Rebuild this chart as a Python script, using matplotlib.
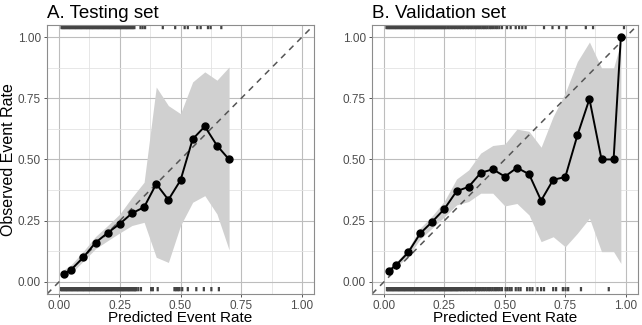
import matplotlib
matplotlib.use("Agg")
import matplotlib.pyplot as plt
import matplotlib.transforms as mtransforms

plt.rcParams['font.family'] = ['Liberation Sans', 'DejaVu Sans']

# A. Testing set
a_pred = [0.02, 0.05, 0.10, 0.15, 0.20, 0.25, 0.30, 0.35, 0.40, 0.45, 0.50, 0.55, 0.60, 0.65, 0.70]
a_obs = [0.033, 0.05, 0.10, 0.16, 0.20, 0.237, 0.28, 0.305, 0.40, 0.335, 0.415, 0.583, 0.635, 0.557, 0.50]
a_lo = [0.02, 0.035, 0.085, 0.135, 0.168, 0.20, 0.23, 0.243, 0.10, 0.079, 0.23, 0.325, 0.352, 0.277, 0.13]
a_hi = [0.05, 0.07, 0.125, 0.185, 0.23, 0.277, 0.345, 0.407, 0.796, 0.72, 0.687, 0.817, 0.858, 0.824, 0.878]

# rug: predicted rates of events (top) and non-events (bottom)
a_rug_top = [0.010, 0.015, 0.020, 0.025, 0.030, 0.035, 0.040, 0.045, 0.050, 0.055,
             0.060, 0.065, 0.070, 0.075, 0.080, 0.085, 0.090, 0.095, 0.100, 0.105,
             0.110, 0.115, 0.120, 0.125, 0.130, 0.135, 0.140, 0.145, 0.150, 0.155,
             0.160, 0.165, 0.170, 0.175, 0.180, 0.185, 0.190, 0.195, 0.200, 0.205,
             0.210, 0.215, 0.220, 0.225, 0.230, 0.235, 0.240, 0.245, 0.250, 0.255,
             0.260, 0.265, 0.270, 0.275, 0.280, 0.285, 0.290, 0.295, 0.300, 0.305,
             0.310, 0.335, 0.344, 0.354, 0.427, 0.478, 0.517, 0.530, 0.569, 0.583,
             0.613, 0.624, 0.668]
a_rug_bot = [0.008, 0.013, 0.018, 0.023, 0.028, 0.033, 0.038, 0.043, 0.048, 0.053,
             0.058, 0.063, 0.068, 0.073, 0.078, 0.083, 0.088, 0.093, 0.098, 0.103,
             0.108, 0.113, 0.118, 0.123, 0.128, 0.133, 0.138, 0.143, 0.148, 0.153,
             0.158, 0.163, 0.168, 0.173, 0.178, 0.183, 0.188, 0.193, 0.198, 0.203,
             0.208, 0.213, 0.218, 0.223, 0.228, 0.233, 0.238, 0.243, 0.248, 0.253,
             0.258, 0.263, 0.268, 0.273, 0.278, 0.283, 0.288, 0.293, 0.298, 0.303,
             0.308, 0.313, 0.317, 0.326, 0.337, 0.379, 0.386, 0.406, 0.475, 0.482,
             0.489, 0.496, 0.507, 0.530, 0.565, 0.596, 0.627, 0.658]

# B. Validation set
b_pred = [0.02, 0.05, 0.10, 0.15, 0.20, 0.25, 0.30, 0.35, 0.40, 0.45, 0.50,
          0.55, 0.60, 0.65, 0.70, 0.75, 0.80, 0.85, 0.90, 0.95, 0.98]
b_obs = [0.045, 0.068, 0.12, 0.198, 0.246, 0.298, 0.37, 0.388, 0.445, 0.46, 0.43,
         0.466, 0.44, 0.332, 0.417, 0.428, 0.598, 0.747, 0.50, 0.50, 1.00]
b_lo = [0.035, 0.058, 0.105, 0.175, 0.22, 0.266, 0.314, 0.328, 0.362, 0.362, 0.31,
        0.32, 0.273, 0.164, 0.184, 0.143, 0.198, 0.26, 0.123, 0.123, 0.075]
b_hi = [0.055, 0.08, 0.135, 0.22, 0.27, 0.33, 0.42, 0.457, 0.526, 0.557, 0.563,
        0.624, 0.615, 0.55, 0.676, 0.772, 0.90, 0.98, 0.874, 0.874, 0.98]

b_rug_top = [0.010, 0.015, 0.020, 0.025, 0.030, 0.035, 0.040, 0.045, 0.050, 0.055,
             0.060, 0.065, 0.070, 0.075, 0.080, 0.085, 0.090, 0.095, 0.100, 0.105,
             0.110, 0.115, 0.120, 0.125, 0.130, 0.135, 0.140, 0.145, 0.150, 0.155,
             0.160, 0.165, 0.170, 0.175, 0.180, 0.185, 0.190, 0.195, 0.200, 0.205,
             0.210, 0.215, 0.220, 0.225, 0.230, 0.235, 0.240, 0.245, 0.250, 0.255,
             0.262, 0.268, 0.275, 0.281, 0.288, 0.294, 0.301, 0.307, 0.314, 0.320,
             0.327, 0.333, 0.340, 0.347, 0.353, 0.360, 0.366, 0.373, 0.380, 0.386,
             0.393, 0.400, 0.407, 0.414, 0.421, 0.428, 0.436, 0.443, 0.451, 0.460,
             0.468, 0.477, 0.488, 0.509, 0.524, 0.545, 0.559, 0.572, 0.586, 0.662,
             0.697, 0.724, 0.755, 0.835, 0.865, 0.993]
b_rug_bot = [0.012, 0.017, 0.022, 0.027, 0.032, 0.037, 0.042, 0.047, 0.052, 0.057,
             0.062, 0.067, 0.072, 0.077, 0.082, 0.087, 0.092, 0.097, 0.102, 0.107,
             0.112, 0.117, 0.122, 0.127, 0.132, 0.137, 0.142, 0.147, 0.152, 0.157,
             0.162, 0.167, 0.172, 0.177, 0.182, 0.187, 0.192, 0.197, 0.202, 0.207,
             0.212, 0.217, 0.222, 0.227, 0.232, 0.237, 0.242, 0.247, 0.252, 0.257,
             0.262, 0.267, 0.272, 0.277, 0.282, 0.287, 0.292, 0.297, 0.302, 0.307,
             0.313, 0.319, 0.325, 0.331, 0.337, 0.343, 0.349, 0.355, 0.361, 0.367,
             0.374, 0.380, 0.386, 0.393, 0.399, 0.406, 0.413, 0.420, 0.427, 0.434,
             0.441, 0.448, 0.456, 0.463, 0.471, 0.479, 0.488, 0.503, 0.511, 0.520,
             0.528, 0.545, 0.556, 0.565, 0.592, 0.603, 0.614, 0.635, 0.650, 0.662,
             0.700, 0.712, 0.740, 0.751, 0.762, 0.815, 0.930]

ticks = [0.00, 0.25, 0.50, 0.75, 1.00]
tick_labels = ['0.00', '0.25', '0.50', '0.75', '1.00']
minor = [0.125, 0.375, 0.625, 0.875]


def draw_panel(ax, title, pred, obs, lo, hi, rug_top, rug_bot, ylabel=None):
    ax.set_xlim(-0.05, 1.05)
    ax.set_ylim(-0.05, 1.05)
    ax.set_xticks(ticks)
    ax.set_yticks(ticks)
    ax.set_xticklabels(tick_labels)
    ax.set_yticklabels(tick_labels)
    ax.set_xticks(minor, minor=True)
    ax.set_yticks(minor, minor=True)
    ax.grid(which='major', color='#bdbdbd', lw=0.8)
    ax.grid(which='minor', color='#e3e3e3', lw=0.6)
    ax.set_axisbelow(True)
    for s in ax.spines.values():
        s.set_color('#8c8c8c')
        s.set_linewidth(0.8)
    ax.tick_params(which='major', length=2.5, width=0.7, color='#555555',
                   labelsize=8.5, labelcolor='#4d4d4d', pad=2)
    ax.tick_params(axis='x', which='major', pad=1.5)
    ax.tick_params(which='minor', length=0)

    ax.fill_between(pred, lo, hi, color='#d0d0d0', lw=0, zorder=1)
    ax.axline((0, 0), slope=1, color='#555555', lw=1.1, ls=(0, (4, 3.5)), zorder=2)
    ax.plot(pred, obs, color='black', lw=1.4, marker='o', ms=5, zorder=3)

    trans = mtransforms.blended_transform_factory(ax.transData, ax.transAxes)
    ax.vlines(rug_top, 0.984, 1.0, transform=trans, color='#444444', lw=1.6,
              snap=False, zorder=2)
    ax.vlines(rug_bot, 0.010, 0.026, transform=trans, color='#444444', lw=1.6,
              snap=False, zorder=2)

    ax.set_title(title, loc='left', fontsize=13.5, pad=5)
    ax.set_xlabel('Predicted Event Rate', fontsize=11, va='baseline')
    ax.xaxis.set_label_coords(0.5, -0.103)
    if ylabel:
        ax.set_ylabel(ylabel, fontsize=11.5, labelpad=1)


fig = plt.figure(figsize=(6.42, 3.25), dpi=100)
ax1 = fig.add_axes([0.0732, 0.0954, 0.416, 0.828])
ax2 = fig.add_axes([0.5794, 0.0954, 0.414, 0.828])

draw_panel(ax1, 'A. Testing set', a_pred, a_obs, a_lo, a_hi, a_rug_top, a_rug_bot,
           ylabel='Observed Event Rate')
draw_panel(ax2, 'B. Validation set', b_pred, b_obs, b_lo, b_hi, b_rug_top, b_rug_bot)

fig.savefig('out.png', dpi=100)
